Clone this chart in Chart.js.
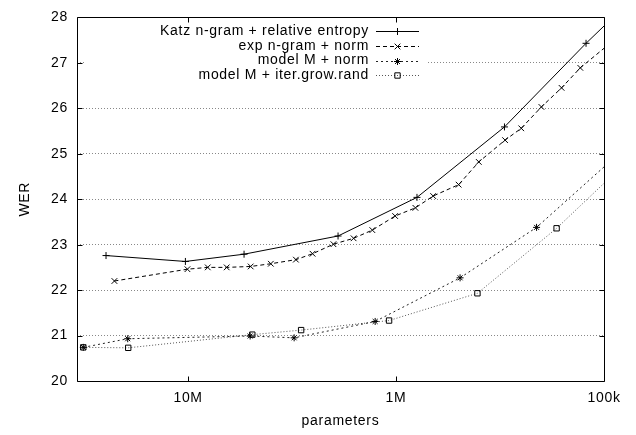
<!DOCTYPE html>
<html><head><meta charset="utf-8">
<script src="https://cdn.jsdelivr.net/npm/chart.js@4/dist/chart.umd.min.js"></script>
<style>html,body{margin:0;padding:0;background:#fff;}#wrap{width:636px;height:435px;position:relative;}</style>
</head><body><div id="wrap"><canvas id="c"></canvas></div>
<script>
const seriesNames = ['Katz n-gram + relative entropy', 'exp n-gram + norm', 'model M + norm', 'model M + iter.grow.rand'];
const katzX = [24.8e6, 10.3e6, 5.38e6, 1.9e6, 793e3, 301e3, 122e3, 1e5];
const katzY = [22.76, 22.63, 22.79, 23.19, 24.04, 25.59, 27.43, 27.81];
const expX = [22.6e6, 10.07e6, 8.04e6, 6.52e6, 5.0e6, 4.0e6, 3.03e6, 2.52e6, 2.0e6, 1.6e6, 1.3e6, 1.01e6, 807e3, 663e3, 500e3, 400e3, 299e3, 250e3, 200e3, 160e3, 130e3, 1e5];
const expY = [22.2, 22.46, 22.5, 22.5, 22.52, 22.58, 22.67, 22.8, 23.01, 23.14, 23.32, 23.63, 23.81, 24.07, 24.32, 24.82, 25.3, 25.56, 26.03, 26.45, 26.89, 27.32];
const normX = [31.9e6, 19.5e6, 5.03e6, 3.09e6, 1.26e6, 492e3, 211e3, 1e5];
const normY = [20.74, 20.93, 20.99, 20.95, 21.31, 22.27, 23.38, 24.71];
const growX = [31.9e6, 19.4e6, 4.91e6, 2.86e6, 1.08e6, 406e3, 169e3, 1e5];
const growY = [20.74, 20.73, 21.02, 21.12, 21.33, 21.93, 23.36, 24.35];
const xTickValues = [1e5, 1e6, 1e7];
const xTickLabels = ['100k', '1M', '10M'];
const xMin = 1e5, xMax = 3.42e7;
const yMin = 20, yMax = 28;

const FONT = {family: '"Liberation Sans", Arial, Helvetica, sans-serif', size: 14};
const LETTER = '0.7px';

function pts(xs, ys) { return xs.map((x, i) => ({x: x, y: ys[i]})); }
function hideLast(n, r) { return (ctx) => ctx.dataIndex === n - 1 ? 0 : r; }

const styles = [
  {color: '#000', dash: [], marker: 'cross', r: 3.5, mk: '#000'},
  {color: '#000', dash: [4, 3], marker: 'crossRot', r: 4, mk: '#000'},
  {color: '#222', dash: [2, 3], marker: 'star', r: 3.5, mk: '#000'},
  {color: '#555', dash: [1, 2], marker: 'rect', r: 3.8, mk: '#000'}
];
const allX = [katzX, expX, normX, growX];
const allY = [katzY, expY, normY, growY];

const datasets = seriesNames.map((name, i) => ({
  label: name,
  data: pts(allX[i], allY[i]),
  borderColor: styles[i].color,
  borderWidth: 1,
  borderDash: styles[i].dash,
  pointStyle: styles[i].marker,
  pointRadius: hideLast(allX[i].length, styles[i].r),
  pointHoverRadius: 0,
  pointBorderColor: styles[i].mk,
  pointBackgroundColor: 'rgba(0,0,0,0)',
  pointBorderWidth: 1,
  fill: false,
  tension: 0
}));

function drawMarker(ctx, type, x, y, r) {
  ctx.beginPath();
  if (type === 'cross' || type === 'star') {
    ctx.moveTo(x - r, y); ctx.lineTo(x + r, y);
    ctx.moveTo(x, y - r); ctx.lineTo(x, y + r);
  }
  if (type === 'crossRot' || type === 'star') {
    const d = r * Math.SQRT1_2;
    ctx.moveTo(x - d, y - d); ctx.lineTo(x + d, y + d);
    ctx.moveTo(x - d, y + d); ctx.lineTo(x + d, y - d);
  }
  if (type === 'rect') {
    const s = r * Math.SQRT1_2;
    ctx.rect(x - s, y - s, 2 * s, 2 * s);
  }
  ctx.stroke();
}

const gnuplotPlugin = {
  id: 'gnuplotFrame',
  beforeDraw(chart) {
    try { chart.ctx.letterSpacing = LETTER; } catch (e) {}
  },
  afterDatasetsDraw(chart) {
    const {ctx, chartArea: a} = chart;
    ctx.save();
    ctx.fillStyle = '#fff';
    ctx.fillRect(a.left + 9, a.top + 6, 342, 60);
    ctx.font = '14px "Liberation Sans", Arial, sans-serif';
    try { ctx.letterSpacing = LETTER; } catch (e) {}
    ctx.textAlign = 'right';
    ctx.textBaseline = 'middle';
    const textRight = a.left + 292;
    const x0 = a.left + 299, x1 = a.left + 342, xm = (x0 + x1) / 2;
    seriesNames.forEach((name, i) => {
      const y = a.top + 13.5 + i * 14.8;
      ctx.fillStyle = '#000';
      ctx.fillText(name, textRight, y);
      ctx.strokeStyle = styles[i].color;
      ctx.lineWidth = 1;
      ctx.setLineDash(styles[i].dash);
      ctx.beginPath();
      ctx.moveTo(x0, Math.round(y) + 0.5); ctx.lineTo(x1, Math.round(y) + 0.5);
      ctx.stroke();
      ctx.setLineDash([]);
      ctx.strokeStyle = styles[i].mk;
      drawMarker(ctx, styles[i].marker, xm, Math.round(y) + 0.5, styles[i].r);
    });
    ctx.restore();
  },
  afterDraw(chart) {
    const {ctx, chartArea: a, scales} = chart;
    ctx.save();
    ctx.strokeStyle = '#000';
    ctx.lineWidth = 1;
    ctx.setLineDash([]);
    const L = Math.round(a.left) + 0.5, R = Math.round(a.right) + 0.5;
    const T = Math.round(a.top) + 0.5, B = Math.round(a.bottom) + 0.5;
    ctx.beginPath();
    ctx.rect(L, T, R - L, B - T);
    xTickValues.forEach(v => {
      const px = Math.round(scales.x.getPixelForValue(v)) + 0.5;
      ctx.moveTo(px, B); ctx.lineTo(px, B - 5);
      ctx.moveTo(px, T); ctx.lineTo(px, T + 5);
    });
    for (let v = yMin + 1; v < yMax; v++) {
      const py = Math.round(scales.y.getPixelForValue(v)) + 0.5;
      ctx.moveTo(L, py); ctx.lineTo(L + 5, py);
      ctx.moveTo(R, py); ctx.lineTo(R - 5, py);
    }
    ctx.stroke();
    ctx.restore();
  }
};

new Chart(document.getElementById('c'), {
  type: 'line',
  data: {datasets: datasets},
  plugins: [gnuplotPlugin],
  options: {
    responsive: true,
    maintainAspectRatio: false,
    animation: false,
    events: [],
    layout: {padding: {top: 11, right: 32, left: 0, bottom: 0}},
    plugins: {legend: {display: false}, tooltip: {enabled: false}},
    scales: {
      x: {
        type: 'logarithmic',
        reverse: true,
        min: xMin,
        max: xMax,
        afterBuildTicks: (s) => { s.ticks = xTickValues.map(v => ({value: v})); },
        afterFit: (s) => { s.height = 54; },
        ticks: {
          autoSkip: false, maxRotation: 0, padding: 9, color: '#000', font: FONT,
          callback: (v) => { const i = xTickValues.indexOf(v); return i >= 0 ? xTickLabels[i] : ''; }
        },
        grid: {display: false, drawTicks: false},
        border: {display: false},
        title: {display: true, text: 'parameters', color: '#000', font: FONT, padding: {top: 0, bottom: 5}}
      },
      y: {
        min: yMin,
        max: yMax,
        afterFit: (s) => { s.width = 77; },
        ticks: {stepSize: 1, padding: 9, color: '#000', font: FONT},
        grid: {color: '#888', lineWidth: 1, drawTicks: false},
        border: {display: false, dash: [1, 2]},
        title: {display: true, text: 'WER', color: '#000', font: FONT, padding: {top: 17, bottom: 0}}
      }
    }
  }
});
</script>
</body></html>
